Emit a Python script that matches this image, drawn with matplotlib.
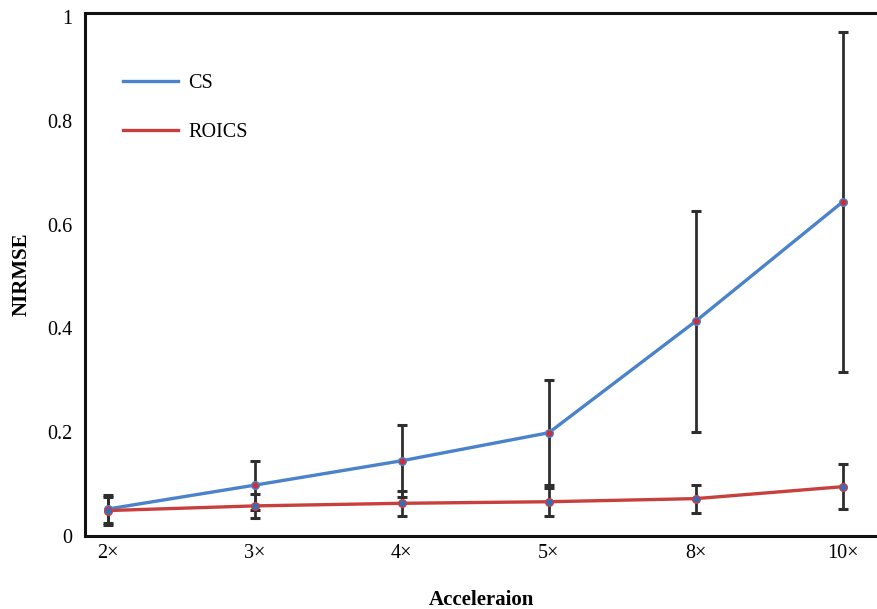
import matplotlib
matplotlib.use("Agg")
import matplotlib.pyplot as plt
import numpy as np

categories = ["2\u00d7", "3\u00d7", "4\u00d7", "5\u00d7", "8\u00d7", "10\u00d7"]
cs_mean = [0.052, 0.098, 0.145, 0.199, 0.414, 0.644]
cs_err = [0.027, 0.047, 0.069, 0.101, 0.213, 0.327]
roics_mean = [0.049, 0.058, 0.063, 0.066, 0.072, 0.095]
roics_err = [0.027, 0.023, 0.024, 0.027, 0.027, 0.043]

plt.rcParams['font.family'] = ['Liberation Serif', 'DejaVu Serif']

fig = plt.figure(figsize=(8.78, 6.09), dpi=100)
ax = fig.add_axes([0.0968, 0.1199, 0.9032, 0.8588])

x = np.arange(len(categories))
blue = '#4a82cc'
red = '#c8403e'

ax.plot(x, cs_mean, color=blue, lw=2.4, zorder=2, label='CS')
ax.plot(x, roics_mean, color=red, lw=2.4, zorder=2, label='ROICS')
ax.errorbar(x, cs_mean, yerr=cs_err, fmt='none', ecolor='#2e2e2e', elinewidth=2.0,
            capsize=3.5, capthick=2.2, zorder=3)
ax.errorbar(x, roics_mean, yerr=roics_err, fmt='none', ecolor='#2e2e2e', elinewidth=2.0,
            capsize=3.5, capthick=2.2, zorder=3)
ax.plot(x, cs_mean, ls='none', marker='o', ms=5.5, mfc='#c8303a', mec=blue, mew=1.0, zorder=4)
ax.plot(x, roics_mean, ls='none', marker='o', ms=5.5, mfc='#2f6fc0', mec=red, mew=1.0, zorder=4)

ax.set_xlim(-0.156, 5.24)
ax.set_ylim(0, 1.008)
ax.set_xticks(x)
ax.set_xticklabels(categories)
ax.set_yticks([0, 0.2, 0.4, 0.6, 0.8, 1.0])
ax.set_yticklabels(['0', '0.2', '0.4', '0.6', '0.8', '1'])
ax.tick_params(length=0, labelsize=14.5, pad=9)
ax.tick_params(axis='x', pad=6)

for s in ['left', 'bottom', 'top']:
    ax.spines[s].set_linewidth(2.2)
    ax.spines[s].set_color('#111111')
ax.spines['right'].set_visible(False)

ax.set_ylabel('NIRMSE', fontsize=15, fontweight='bold', labelpad=11)
ax.set_xlabel('Acceleraion', fontsize=15, fontweight='bold', labelpad=19)

ax.legend(loc='upper left', bbox_to_anchor=(0.025, 0.918), frameon=False,
          fontsize=14.5, handlelength=2.75, labelspacing=1.5, handletextpad=0.5)

fig.savefig('out.png', dpi=100)
